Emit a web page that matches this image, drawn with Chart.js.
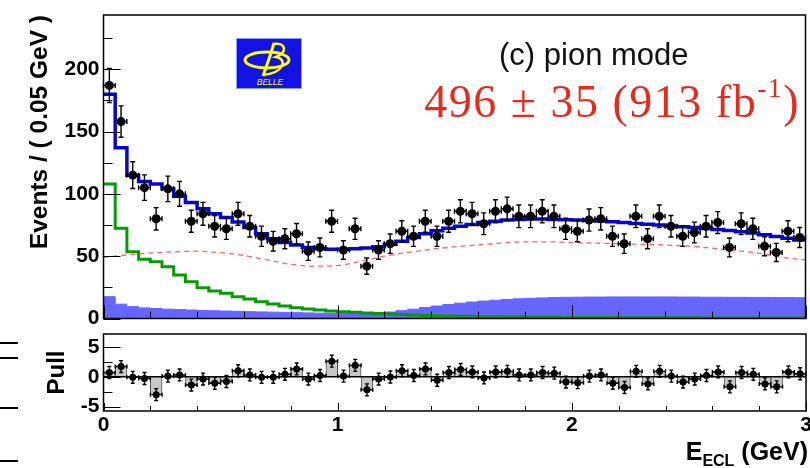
<!DOCTYPE html>
<html>
<head>
<meta charset="utf-8">
<title>E_ECL pion mode</title>
<script src="https://cdn.jsdelivr.net/npm/chart.js@4.4.0/dist/chart.umd.min.js"></script>
<style>
  html, body { margin: 0; padding: 0; background: #fff; }
  #wrap { position: relative; width: 810px; height: 468px; overflow: hidden; font-family: 'Liberation Sans', Arial, sans-serif; }
  canvas { position: absolute; left: 0; }
  #topChart { top: 0; }
  #pullChart { top: 330px; }
  .txt { position: absolute; white-space: nowrap; }
  #mode { left: 499px; top: 37px; font-size: 31px; color: #111; }
  #yield { right: 10px; top: 75px; font-family: 'Liberation Serif', 'Times New Roman', serif; font-size: 46px; color: #e52b20; letter-spacing: 1.5px; }
  #yield sup { font-size: 0.6em; position: relative; top: -0.1em; vertical-align: top; }
  #xtitle { right: 2px; top: 437px; font-size: 25px; font-weight: bold; }
  #xtitle sub { font-size: 16px; }
  #logo { position: absolute; left: 236px; top: 38px; }
  .dash { position: absolute; left: 0; width: 18px; height: 2px; background: #000; }
</style>
</head>
<body>
<div id="wrap">
  <canvas id="topChart" width="810" height="330"></canvas>
  <canvas id="pullChart" width="810" height="138"></canvas>
  <svg id="logo" width="66" height="51" viewBox="0 0 66 51">
    <rect x="0.5" y="0.5" width="65" height="50" fill="#1212e6" stroke="#8c9cff"/>
    <ellipse cx="31" cy="22" rx="22" ry="8" fill="none" stroke="#ffff00" stroke-width="3"/>
    <path d="M38 5 C 35 16, 31 27, 27 38" fill="none" stroke="#ffff00" stroke-width="3"/>
    <path d="M37 6 C 50 4, 52 14, 40 19 C 52 21, 48 35, 27 37" fill="none" stroke="#ffff00" stroke-width="2.5"/>
    <text x="34" y="47" font-size="8.5" font-style="italic" fill="#ffff00" text-anchor="middle" font-family="Liberation Sans, Arial">BELLE</text>
  </svg>
  <div class="txt" id="mode">(c) pion mode</div>
  <div class="txt" id="yield">496 ± 35 (913 fb<sup>-1</sup>)</div>
  <div class="txt" id="xtitle">E<sub>ECL</sub> (GeV)</div>
  <div class="dash" style="top:342px"></div>
  <div class="dash" style="top:357px"></div>
  <div class="dash" style="top:407px"></div>
  <div class="dash" style="top:460px"></div>
</div>
<script>
// binning
const BIN_WIDTH = 0.05;
const X_MIN = 0;
const X_MAX = 3;

// tick labels
const xTickValues = [0, 1, 2, 3];
const yTickValues = [0, 50, 100, 150, 200];
const pullTickValues = [-5, 0, 5];

// measured events per bin
const counts = [187, 158, 115, 105, 80, 104, 100, 78, 84, 74,
  72, 84, 74, 66, 62, 64, 68, 54, 57, 78,
  55, 72, 42, 55, 60, 70, 66, 78, 66, 78,
  86, 84, 76, 86, 88, 82, 82, 86, 82, 72,
  70, 79, 80, 66, 60, 82, 64, 82, 74, 66,
  69, 74, 77, 57, 76, 72, 58, 53, 70, 65];

// total fit (blue histogram)
const totalFit = [180, 137, 115, 110, 108, 104, 98, 93, 88, 84,
  81, 77.5, 73, 68, 64, 61, 59, 57, 56, 55.5,
  55.5, 56, 56.5, 57.5, 59.5, 62, 65, 68, 70.5, 72.5,
  74, 75.5, 77, 78, 79, 79.5, 79.8, 79.8, 79.5, 79.2,
  79, 78.6, 78.2, 77.6, 77, 76.3, 75.6, 75, 74.3, 73.6,
  73, 72.3, 71.5, 70.6, 69.7, 68.6, 67.2, 65.8, 64.3, 63];

// green component
const greenFit = [108, 72.5, 53.5, 47.5, 45.5, 41.5, 35, 29.5, 24.7, 22,
  20.3, 17.5, 15.6, 13.5, 11.6, 10, 8.7, 7.6, 6.8, 6,
  5.5, 5, 4.5, 4, 3.6, 3.2, 2.8, 2.5, 2.2, 2,
  1.8, 1.6, 1.5, 1.4, 1.3, 1.2, 1.1, 1, 1, 0.9,
  0.9, 0.8, 0.8, 0.8, 0.7, 0.7, 0.7, 0.6, 0.6, 0.6,
  0.6, 0.5, 0.5, 0.5, 0.5, 0.5, 0.5, 0.4, 0.4, 0.4];

// filled blue component
const bkgFill = [17.5, 11.5, 9.5, 8.5, 8, 7.5, 7.2, 6.8, 6.5, 6.2,
  6, 5.8, 5.5, 5.3, 5.1, 4.9, 4.7, 4.5, 4.3, 4.2,
  4.1, 4, 4, 4.3, 5.2, 6.3, 7.5, 8.8, 10, 11.2,
  12.3, 13.2, 14, 14.7, 15.3, 15.8, 16.2, 16.5, 16.8, 17,
  17.1, 17.2, 17.2, 17.3, 17.3, 17.3, 17.3, 17.3, 17.3, 17.2,
  17.2, 17.1, 17.1, 17, 17, 16.9, 16.9, 16.8, 16.8, 16.7];

// red dashed curve
const redX = [0, 0.1, 0.2, 0.3, 0.4, 0.5, 0.6, 0.7, 0.8, 0.9,
  1.0, 1.1, 1.2, 1.3, 1.4, 1.5, 1.6, 1.7, 1.8, 1.9,
  2.0, 2.1, 2.2, 2.3, 2.4, 2.5, 2.6, 2.7, 2.8, 2.9, 3.0];
const redY = [49, 51, 52.5, 53.5, 54, 52.8, 50.5, 47, 43.5, 42,
  42.5, 46, 50, 53, 55.5, 57.5, 59, 60.5, 61.5, 61.5,
  61, 60.5, 60, 59.5, 59, 58, 56.5, 54.5, 52.5, 49, 47];

// pulls per bin
const pulls = [0.7, 1.7, -0.1, -0.3, -3.0, 0.1, 0.3, -1.4, -0.4, -1.1,
  -0.8, 1.0, 0.3, -0.1, -0.1, 0.4, 1.3, -0.4, 0.2, 2.6,
  0.1, 1.9, -2.2, -0.4, -0.05, 1.0, 0.2, 1.3, -0.6, 0.7,
  1.2, 0.8, -0.2, 0.8, 0.9, 0.3, 0.3, 0.7, 0.6, -0.9,
  -1.0, 0.1, 0.3, -1.1, -1.8, 0.9, -1.2, 0.9, 0.1, -0.9,
  -0.4, 0.2, 0.8, -1.7, 0.7, 0.4, -1.2, -1.7, 0.8, 0.5];

const binLow = counts.map((_, i) => X_MIN + i * BIN_WIDTH);
const binCenter = binLow.map(v => v + BIN_WIDTH / 2);

function stepPoints(values) {
  const pts = values.map((v, i) => ({ x: binLow[i], y: v }));
  pts.push({ x: X_MAX, y: values[values.length - 1] });
  return pts;
}

Chart.defaults.font.family = "'Liberation Sans', Arial, sans-serif";
Chart.defaults.color = '#000';

// ROOT style frame with ticks inside
const rootFrame = {
  id: 'rootFrame',
  afterDraw(chart, args, o) {
    const { ctx, chartArea: a } = chart;
    const x = chart.scales.x, y = chart.scales.y;
    ctx.save();
    ctx.strokeStyle = '#000';
    ctx.lineWidth = 1;
    ctx.beginPath();
    for (let v = X_MIN; v <= X_MAX + 1e-9; v += o.xStep) {
      const px = Math.round(x.getPixelForValue(v)) + 0.5;
      const major = xTickValues.some(m => Math.abs(m - v) < 1e-6);
      ctx.moveTo(px, a.bottom);
      ctx.lineTo(px, a.bottom - (major ? o.xMajorLen : o.xMinorLen));
    }
    for (let v = o.yStart; v <= y.max + 1e-9; v += o.yStep) {
      const py = Math.round(y.getPixelForValue(v)) + 0.5;
      const major = o.yMajor.some(m => Math.abs(m - v) < 1e-6);
      ctx.moveTo(a.left, py);
      ctx.lineTo(a.left + (major ? o.yMajorLen : o.yMinorLen), py);
    }
    ctx.stroke();
    if (o.zeroLine) {
      const py = y.getPixelForValue(0);
      ctx.lineWidth = 1.5;
      ctx.beginPath();
      ctx.moveTo(a.left, py);
      ctx.lineTo(a.right, py);
      ctx.stroke();
    }
    ctx.lineWidth = 1.5;
    ctx.strokeRect(a.left, a.top, a.right - a.left, a.bottom - a.top);
    ctx.restore();
  }
};

// error bars for the data points
const errorBars = {
  id: 'errorBars',
  afterDatasetDraw(chart, args) {
    const ds = chart.data.datasets[args.index];
    if (!ds.errY) return;
    const { ctx } = chart;
    const x = chart.scales.x, y = chart.scales.y;
    const cap = ds.capSize;
    ctx.save();
    ctx.strokeStyle = '#000';
    ctx.lineWidth = 1.4;
    ctx.beginPath();
    ds.data.forEach((p, i) => {
      const e = ds.errY[i];
      const px = x.getPixelForValue(p.x);
      const py = y.getPixelForValue(p.y);
      const yHi = y.getPixelForValue(p.y + e);
      const yLo = y.getPixelForValue(p.y - e);
      const xLo = x.getPixelForValue(p.x - ds.errX);
      const xHi = x.getPixelForValue(p.x + ds.errX);
      ctx.moveTo(px, yHi); ctx.lineTo(px, yLo);
      ctx.moveTo(px - cap, yHi); ctx.lineTo(px + cap, yHi);
      ctx.moveTo(px - cap, yLo); ctx.lineTo(px + cap, yLo);
      ctx.moveTo(xLo, py); ctx.lineTo(xHi, py);
      ctx.moveTo(xLo, py - cap); ctx.lineTo(xLo, py + cap);
      ctx.moveTo(xHi, py - cap); ctx.lineTo(xHi, py + cap);
    });
    ctx.stroke();
    ctx.restore();
  }
};

const tickFont = { size: 21, weight: 'bold' };

new Chart(document.getElementById('topChart'), {
  type: 'line',
  data: {
    datasets: [
      {
        label: 'data',
        data: counts.map((v, i) => ({ x: binCenter[i], y: v })),
        showLine: false,
        pointRadius: 4.5,
        pointBackgroundColor: '#000',
        pointBorderWidth: 0,
        errY: counts.map(Math.sqrt),
        errX: BIN_WIDTH / 2,
        capSize: 2.5,
        order: 0
      },
      {
        label: 'total',
        data: stepPoints(totalFit),
        stepped: 'before',
        borderColor: '#0606cc',
        borderWidth: 3.5,
        pointRadius: 0,
        fill: false,
        order: 1
      },
      {
        label: 'red',
        data: redX.map((x, i) => ({ x, y: redY[i] })),
        borderColor: 'rgba(255,70,70,0.85)',
        borderWidth: 1.3,
        borderDash: [5, 4],
        pointRadius: 0,
        cubicInterpolationMode: 'monotone',
        fill: false,
        order: 2
      },
      {
        label: 'green',
        data: stepPoints(greenFit),
        stepped: 'before',
        borderColor: '#079a07',
        borderWidth: 3,
        pointRadius: 0,
        fill: false,
        order: 3
      },
      {
        label: 'bkg',
        data: stepPoints(bkgFill),
        stepped: 'before',
        borderColor: '#6666ff',
        borderWidth: 1,
        backgroundColor: '#6666ff',
        fill: 'origin',
        pointRadius: 0,
        order: 4
      }
    ]
  },
  options: {
    responsive: false,
    animation: false,
    events: [],
    layout: { padding: { top: 15, right: 2, left: 0, bottom: 0 } },
    plugins: {
      legend: { display: false },
      tooltip: { enabled: false },
      rootFrame: {
        xStep: 0.2, xMajorLen: 13, xMinorLen: 7,
        yStart: 0, yStep: 25, yMajor: yTickValues, yMajorLen: 17, yMinorLen: 9
      }
    },
    scales: {
      x: {
        type: 'linear', min: X_MIN, max: X_MAX,
        grid: { display: false, drawTicks: false },
        border: { display: false },
        ticks: { display: false },
        afterFit: s => { s.height = 11.5; s.paddingLeft = 0; s.paddingRight = 0; }
      },
      y: {
        min: 0, max: 243.5,
        grid: { display: false, drawTicks: false },
        border: { display: false },
        afterBuildTicks: s => { s.ticks = yTickValues.map(v => ({ value: v })); },
        ticks: { font: tickFont, padding: 4 },
        title: {
          display: true,
          text: 'Events / ( 0.05 GeV )',
          align: 'end',
          font: { size: 24.5, weight: 'bold' },
          padding: { top: 26 }
        },
        afterFit: s => { s.width = 103.5; s.paddingTop = 0; s.paddingBottom = 0; }
      }
    }
  },
  plugins: [rootFrame, errorBars]
});

new Chart(document.getElementById('pullChart'), {
  type: 'line',
  data: {
    datasets: [
      {
        label: 'pull',
        data: pulls.map((v, i) => ({ x: binCenter[i], y: v })),
        showLine: false,
        pointRadius: 3.5,
        pointBackgroundColor: '#000',
        pointBorderWidth: 0,
        errY: pulls.map(() => 1),
        errX: BIN_WIDTH / 2,
        capSize: 2,
        order: 0
      },
      {
        type: 'bar',
        label: 'pull bars',
        data: pulls.map((v, i) => ({ x: binCenter[i], y: v })),
        backgroundColor: '#c8c8c8',
        borderColor: '#555',
        borderWidth: 1,
        barPercentage: 1,
        categoryPercentage: 1,
        order: 1
      }
    ]
  },
  options: {
    responsive: false,
    animation: false,
    events: [],
    layout: { padding: { top: 1.7, right: 2, left: 0, bottom: 0 } },
    plugins: {
      legend: { display: false },
      tooltip: { enabled: false },
      rootFrame: {
        xStep: 0.2, xMajorLen: 8, xMinorLen: 5,
        yStart: -5, yStep: 2.5, yMajor: pullTickValues, yMajorLen: 17, yMinorLen: 9,
        zeroLine: true
      }
    },
    scales: {
      x: {
        type: 'linear', min: X_MIN, max: X_MAX, offset: false,
        grid: { display: false, drawTicks: false, offset: false },
        border: { display: false },
        afterBuildTicks: s => { s.ticks = xTickValues.map(v => ({ value: v })); },
        ticks: { font: tickFont, padding: 2, maxRotation: 0 },
        afterFit: s => { s.height = 57; s.paddingLeft = 0; s.paddingRight = 0; }
      },
      y: {
        min: -5.74, max: 7.15,
        grid: { display: false, drawTicks: false },
        border: { display: false },
        afterBuildTicks: s => { s.ticks = pullTickValues.map(v => ({ value: v })); },
        ticks: { font: tickFont, padding: 4 },
        title: {
          display: true,
          text: 'Pull',
          font: { size: 24, weight: 'bold' },
          padding: { top: 43 }
        },
        afterFit: s => { s.width = 103.5; s.paddingTop = 0; s.paddingBottom = 0; }
      }
    }
  },
  plugins: [rootFrame, errorBars]
});
</script>
</body>
</html>
